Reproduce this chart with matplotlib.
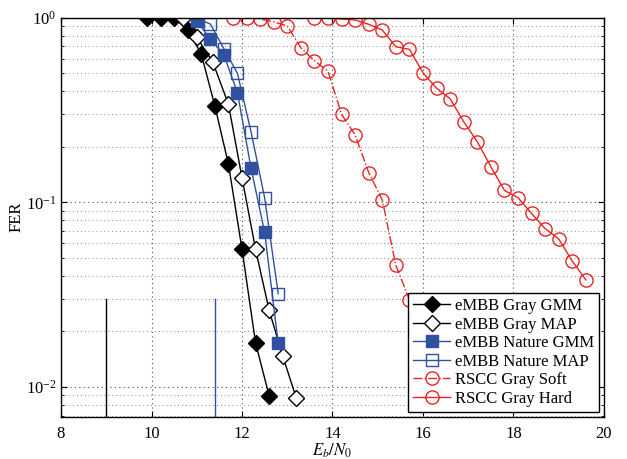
import numpy as np
from matplotlib import pyplot as plt
from matplotlib.ticker import LogLocator, LogFormatterMathtext, NullFormatter

plt.rcParams.update({'font.size': 12,
                     'font.family': 'Liberation Serif',
                     'mathtext.fontset': 'stix'})

# eMBB, Gray labelling, GMM demapper
gray_gmm_x = [9.9, 10.2, 10.5, 10.8, 11.1, 11.4, 11.7, 12.0, 12.3, 12.6]
gray_gmm_y = [1.0, 1.0, 1.0, 0.858, 0.636, 0.333, 0.161, 0.0558, 0.0173, 0.00894]

# eMBB, Gray labelling, MAP demapper
gray_map_x = [10.7, 11.0, 11.35, 11.7, 12.0, 12.3, 12.6, 12.9, 13.2]
gray_map_y = [1.0, 0.783, 0.578, 0.340, 0.136, 0.0556, 0.026, 0.0147, 0.0087]

# eMBB, Nature labelling
nat_gmm_x = [11.0, 11.3, 11.6, 11.9, 12.2, 12.5, 12.8]
nat_gmm_y = [0.963, 0.764, 0.628, 0.392, 0.153, 0.069, 0.0173]
nat_map_x = [11.0, 11.3, 11.6, 11.9, 12.2, 12.5, 12.8]
nat_map_y = [0.99, 0.924, 0.68, 0.499, 0.241, 0.106, 0.032]

# RSCC reference curves
soft_x = [11.8, 12.1, 12.4, 12.7, 13.0, 13.3, 13.6, 13.9, 14.2, 14.5, 14.8, 15.1, 15.4, 15.7]
soft_y = [1.0, 1.0, 0.984, 0.951, 0.902, 0.688, 0.585, 0.514, 0.300, 0.232, 0.145, 0.103, 0.0456, 0.0297]
hard_x = [13.6, 13.9, 14.2, 14.5, 14.8, 15.1, 15.4, 15.7, 16.0, 16.3, 16.6,
          16.9, 17.2, 17.5, 17.8, 18.1, 18.4, 18.7, 19.0, 19.3, 19.6]
hard_y = [1.0, 0.993, 0.984, 0.972, 0.921, 0.858, 0.696, 0.674, 0.503, 0.415, 0.364,
          0.273, 0.213, 0.156, 0.116, 0.106, 0.087, 0.072, 0.0633, 0.048, 0.038]

# threshold markers (vertical lines)
thr_x = [9.0, 11.4]
thr_top = 0.03

blue = '#3050a0'
red = '#e82424'
ylo = 0.0069

fig = plt.figure(figsize=(6.27, 4.59), dpi=100)
ax = fig.add_axes([0.0973, 0.0922, 0.866, 0.8692])

ax.plot([thr_x[0]] * 2, [ylo, thr_top], color='k', lw=1.0)
ax.plot([thr_x[1]] * 2, [ylo, thr_top], color=blue, lw=1.0)

ax.plot(gray_gmm_x, gray_gmm_y, 'k-', marker='D', ms=8.5, mfc='k', mec='k',
        lw=1.0, label='eMBB Gray GMM')
ax.plot(gray_map_x, gray_map_y, 'k-', marker='D', ms=8.5, mfc='white', mec='k',
        lw=1.0, label='eMBB Gray MAP')
ax.plot(nat_gmm_x, nat_gmm_y, '-', color=blue, marker='s', ms=9, mfc=blue, mec=blue,
        lw=1.0, label='eMBB Nature GMM')
ax.plot(nat_map_x, nat_map_y, '-', color=blue, marker='s', ms=9, mfc='none', mec=blue,
        lw=1.0, label='eMBB Nature MAP')
ax.plot(soft_x, soft_y, '-.', color=red, marker='o', ms=9.5, mfc='none', mec=red,
        lw=1.0, label='RSCC Gray Soft')
ax.plot(hard_x, hard_y, '-', color=red, marker='o', ms=9.5, mfc='none', mec=red,
        lw=1.0, label='RSCC Gray Hard')

ax.set_yscale('log')
ax.set_xlim(8, 20)
ax.set_ylim(ylo, 1)
ax.set_xticks(np.arange(8, 21, 2))
ax.yaxis.set_major_locator(LogLocator(base=10))
ax.yaxis.set_major_formatter(LogFormatterMathtext())
ax.yaxis.set_minor_locator(LogLocator(base=10, subs=np.arange(2, 10)))
ax.yaxis.set_minor_formatter(NullFormatter())

ax.grid(True, which='major', linestyle=(0, (1, 3)), color='0.3', lw=0.8)
ax.grid(True, which='minor', axis='y', linestyle=(0, (1, 3)), color='0.55', lw=0.7)
ax.tick_params(which='both', direction='in', top=True, right=True)
ax.tick_params(which='major', length=4)
ax.tick_params(which='minor', length=2)
ax.tick_params(axis='x', pad=6.5)
for s in ax.spines.values():
    s.set_linewidth(1.0)

ax.set_xlabel('$E_b/N_0$', labelpad=0)
ax.set_ylabel('FER', labelpad=1)

leg = ax.legend(loc='lower right', fancybox=False, edgecolor='k', framealpha=1,
                borderaxespad=0.3, handlelength=2.2, handletextpad=0.3,
                labelspacing=0.15, borderpad=0.3, fontsize=12)
leg.get_frame().set_linewidth(1.0)

fig.savefig('out.png', dpi=100)
